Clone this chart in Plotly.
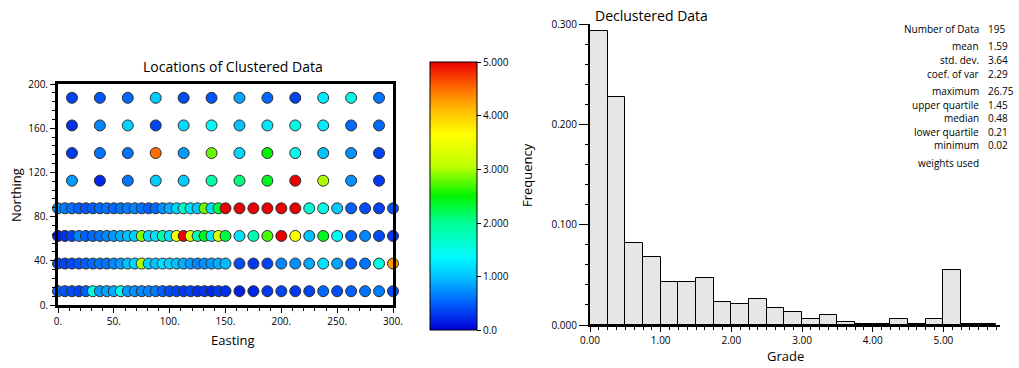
import plotly.graph_objects as go

W, H = 1019, 368
FONT = "Open Sans"

# ---- sample locations and grades ----------------------------------------
# densely sampled rows (spacing 6.25 up to 150, then 12.5)
dense_east = [0, 6.25, 12.5, 18.75, 25, 31.25, 37.5, 43.75, 50, 56.25, 62.5, 68.75,
              75, 81.25, 87.5, 93.75, 100, 106.25, 112.5, 118.75, 125, 131.25, 137.5,
              143.75, 150, 162.5, 175, 187.5, 200, 212.5, 225, 237.5, 250, 262.5,
              275, 287.5, 300]
# sparse rows
sparse_east = [12.5, 37.5, 62.5, 87.5, 112.5, 137.5, 162.5, 187.5, 212.5, 237.5,
               262.5, 287.5]

grade_n12 = [0.6, 0.45, 0.4, 0.35, 0.5, 1.5, 0.8, 0.85, 0.9, 1.45, 0.8, 0.75, 0.7,
             0.7, 0.65, 0.5, 0.4, 0.35, 0.3, 0.35, 0.25, 0.3, 0.2, 0.3, 0.25,
             0.15, 0.2, 0.3, 0.35, 0.3, 0.35, 0.55, 0.4, 0.5, 0.6, 0.65, 0.4]
grade_n37 = [0.4, 0.35, 0.4, 0.45, 0.5, 0.55, 0.6, 0.6, 0.7, 0.8, 1.0, 1.1, 3.0,
             1.1, 1.0, 1.15, 1.1, 1.0, 0.9, 0.8, 0.7, 0.75, 0.8, 0.9, 0.95,
             0.4, 0.3, 0.35, 0.7, 0.75, 0.85, 1.2, 0.85, 0.5, 0.6, 1.55, 4.3]
grade_n62 = [0.15, 0.25, 0.35, 0.7, 0.5, 0.55, 0.6, 0.7, 0.8, 0.9, 1.0, 1.1, 2.9,
             1.15, 1.2, 1.9, 1.2, 3.6, 6.0, 3.3, 1.8, 2.4, 1.25, 3.3, 2.3,
             1.2, 1.8, 2.7, 7.0, 3.6, 1.0, 2.4, 1.4, 0.5, 0.7, 0.4, 0.3]
grade_n87 = [0.8, 0.65, 0.6, 0.5, 0.45, 0.5, 0.55, 0.6, 0.55, 0.6, 0.65, 0.7, 0.6,
             0.5, 0.55, 0.75, 0.9, 1.1, 1.7, 1.2, 1.05, 2.8, 1.15, 2.3, 6.0,
             7.0, 9.0, 6.5, 12.0, 5.8, 1.6, 1.5, 1.05, 0.5, 0.4, 0.35, 0.45]
grade_n112 = [0.8, 0.2, 0.6, 1.05, 1.05, 1.9, 2.1, 2.4, 26.75, 3.0, 0.75, 0.3]
grade_n137 = [0.3, 0.6, 0.6, 4.5, 0.8, 2.8, 1.12, 2.5, 1.45, 1.0, 0.75, 0.35]
grade_n162 = [0.25, 0.7, 1.1, 0.35, 1.15, 1.4, 1.0, 1.22, 1.5, 1.25, 0.55, 0.55]
grade_n187 = [0.35, 0.45, 0.55, 1.05, 0.4, 0.45, 0.85, 0.55, 0.35, 1.25, 1.5, 0.6]

dense_north = [12.5, 37.5, 62.5, 87.5]
sparse_north = [112.5, 137.5, 162.5, 187.5]

# ---- declustered histogram ------------------------------------------------
bin_centers = [0.125, 0.375, 0.625, 0.875, 1.125, 1.375, 1.625, 1.875, 2.125,
               2.375, 2.625, 2.875, 3.125, 3.375, 3.625, 3.875, 4.125, 4.375,
               4.625, 4.875, 5.125, 5.375, 5.625]
bin_freq = [0.293, 0.227, 0.082, 0.068, 0.043, 0.043, 0.047, 0.023, 0.021, 0.026,
            0.017, 0.013, 0.006, 0.010, 0.003, 0.001, 0.001, 0.006, 0.001, 0.006,
            0.055, 0.001, 0.001]

stat_labels = ["Number of Data", "mean", "std. dev.", "coef. of var", "maximum",
               "upper quartile", "median", "lower quartile", "minimum", "weights used"]
stat_values = ["195", "1.59", "3.64", "2.29", "26.75", "1.45", "0.48", "0.21",
               "0.02", ""]
stat_rows_px = [29, 46, 60, 74, 91, 104.5, 118, 131.5, 145, 163]

color_ticks = [0, 1, 2, 3, 4, 5]
color_tick_text = ["0.0", "1.000", "2.000", "3.000", "4.000", "5.000"]

rainbow = [
    [0.00, "rgb(0,0,215)"],
    [0.10, "rgb(0,95,255)"],
    [0.20, "rgb(0,195,255)"],
    [0.27, "rgb(0,250,255)"],
    [0.40, "rgb(0,255,150)"],
    [0.50, "rgb(0,245,0)"],
    [0.61, "rgb(190,255,0)"],
    [0.73, "rgb(255,255,0)"],
    [0.82, "rgb(255,190,0)"],
    [0.91, "rgb(255,100,0)"],
    [1.00, "rgb(235,0,0)"],
]


def px_x(p):
    return p / W


def px_y(p):
    return 1 - p / H


xs, ys, zs = [], [], []
for north, row in zip(dense_north, [grade_n12, grade_n37, grade_n62, grade_n87]):
    xs += dense_east
    ys += [north] * len(dense_east)
    zs += row
for north, row in zip(sparse_north, [grade_n112, grade_n137, grade_n162, grade_n187]):
    xs += sparse_east
    ys += [north] * len(sparse_east)
    zs += row

fig = go.Figure()

fig.add_trace(go.Scatter(
    x=xs, y=ys, mode="markers", cliponaxis=False, xaxis="x", yaxis="y",
    marker=dict(
        size=11, color=zs, cmin=0, cmax=5, colorscale=rainbow,
        line=dict(color="#303030", width=1),
        showscale=True,
        colorbar=dict(
            x=px_x(430), xanchor="left", xpad=0,
            y=px_y((62.5 + 330) / 2), yanchor="middle", ypad=0,
            len=(330 - 62.5) / H, lenmode="fraction",
            thickness=47, thicknessmode="pixels",
            outlinewidth=1, outlinecolor="black",
            tickmode="array", tickvals=color_ticks, ticktext=color_tick_text,
            ticks="outside", ticklen=4, tickcolor="black",
            tickfont=dict(family=FONT, size=10, color="black"),
        ),
    ),
    hoverinfo="skip",
))

fig.add_trace(go.Bar(
    x=bin_centers, y=bin_freq, width=0.25, xaxis="x2", yaxis="y2",
    marker=dict(color="#e6e6e6", line=dict(color="black", width=1)),
    hoverinfo="skip",
))

axis_font = dict(family=FONT, size=10, color="black")

fig.update_layout(
    width=W, height=H,
    margin=dict(l=0, r=0, t=0, b=0, autoexpand=False),
    paper_bgcolor="white", plot_bgcolor="white", showlegend=False,
    bargap=0,
    xaxis=dict(
        domain=[px_x(58), px_x(393)], range=[0, 300], anchor="y",
        dtick=50, tickformat="d", ticksuffix=".", ticks="outside", ticklen=5,
        tickcolor="black", tickfont=axis_font,
        minor=dict(dtick=10, ticks="outside", ticklen=3, tickcolor="black"),
        showline=True, linewidth=3, linecolor="black", mirror=True,
        showgrid=False, zeroline=False, layer="above traces",
    ),
    yaxis=dict(
        domain=[px_y(305), px_y(84)], range=[0, 200], anchor="x",
        dtick=40, tickformat="d", ticksuffix=".", ticks="outside", ticklen=5,
        tickcolor="black", tickfont=axis_font,
        minor=dict(dtick=8, ticks="outside", ticklen=3, tickcolor="black"),
        showline=True, linewidth=3, linecolor="black", mirror=True,
        showgrid=False, zeroline=False, layer="above traces",
    ),
    xaxis2=dict(
        domain=[px_x(590), px_x(1000)], range=[0, 5.8], anchor="y2",
        dtick=1, tickformat=".2f", ticks="outside", ticklen=5,
        tickcolor="black", tickfont=axis_font,
        minor=dict(dtick=0.125, ticks="outside", ticklen=3, tickcolor="black"),
        showline=True, linewidth=2, linecolor="black",
        showgrid=False, zeroline=False,
    ),
    yaxis2=dict(
        domain=[px_y(325), px_y(24)], range=[0, 0.3], anchor="x2",
        dtick=0.1, tickformat=".3f", ticks="outside", ticklen=9,
        tickcolor="black", tickfont=axis_font,
        minor=dict(dtick=0.02, ticks="outside", ticklen=3, tickcolor="black"),
        showline=True, linewidth=2, linecolor="black",
        showgrid=False, zeroline=False,
    ),
)

notes = [
    ("Locations of Clustered Data", 233, 67, 14, 0),
    ("Easting", 233, 340, 13, 0),
    ("Northing", 16, 195, 13, -90),
    ("Declustered Data", 651, 15, 14, 0),
    ("Frequency", 527, 175, 13, -90),
    ("Grade", 785, 356, 13, 0),
]
for text, x, y, size, angle in notes:
    fig.add_annotation(
        text=text, x=px_x(x), y=px_y(y), xref="paper", yref="paper",
        xanchor="center", yanchor="middle", showarrow=False, textangle=angle,
        font=dict(family=FONT, size=size, color="black"),
    )

for label, value, row in zip(stat_labels, stat_values, stat_rows_px):
    fig.add_annotation(
        text=label, x=px_x(981), y=px_y(row), xref="paper", yref="paper",
        xanchor="right", yanchor="middle", showarrow=False,
        font=dict(family=FONT, size=10, color="black"),
    )
    if value:
        fig.add_annotation(
            text=value, x=px_x(986), y=px_y(row), xref="paper", yref="paper",
            xanchor="left", yanchor="middle", showarrow=False,
            font=dict(family=FONT, size=10, color="black"),
        )

fig.write_html("out.html")
